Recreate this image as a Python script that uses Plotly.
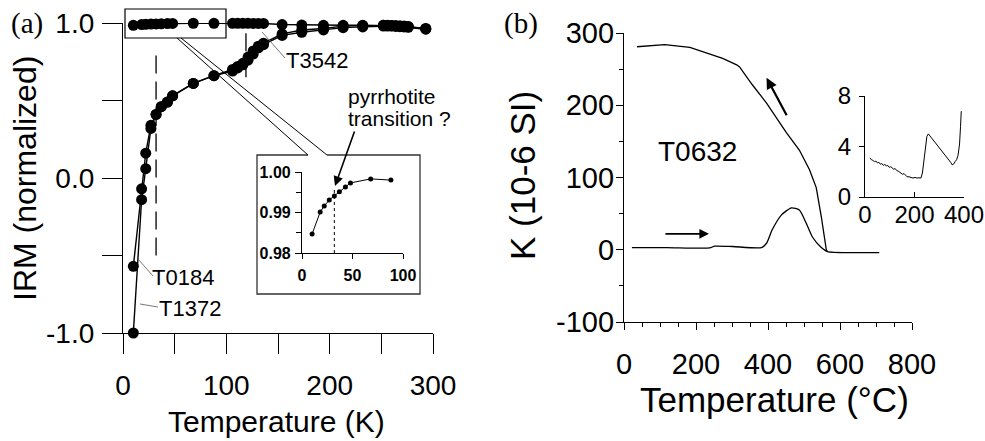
import plotly.graph_objects as go

# ---------------- data ----------------
# (a) IRM vs temperature (K)
irm_T = [10, 18, 22, 27, 32, 37, 43, 48, 68, 88, 106, 111, 116, 121, 126, 131, 136,
         154, 173, 194, 213, 232, 252, 256, 260, 264, 268, 272, 276, 293]
irm_T3542 = [0.9847, 0.9901, 0.9916, 0.9931, 0.9941, 0.9951, 0.9963, 0.9973, 0.9983, 0.9980,
             0.998, 0.998, 0.998, 0.998, 0.997, 0.997, 0.997,
             0.990, 0.987, 0.985, 0.985, 0.985, 0.985, 0.984, 0.983, 0.982, 0.981, 0.980, 0.978, 0.965]
irm_T1372 = [-1.0, -0.14, 0.06, 0.32, 0.41, 0.46, 0.49, 0.53, 0.61, 0.66,
             0.69, 0.71, 0.73, 0.76, 0.80, 0.84, 0.86,
             0.92, 0.94, 0.955, 0.97, 0.975, 0.98, 0.98, 0.98, 0.978, 0.976, 0.975, 0.972, 0.96]
irm_T0184 = [-0.57, -0.07, 0.16, 0.34, 0.41, 0.46, 0.49, 0.53, 0.61, 0.66,
             0.70, 0.72, 0.74, 0.78, 0.82, 0.85, 0.87,
             0.93, 0.955, 0.965, 0.98, 0.983, 0.985, 0.985, 0.984, 0.982, 0.98, 0.978, 0.976, 0.963]
n_inset = 10  # first points of T3542 shown in the zoomed inset

# (b) susceptibility vs temperature (°C), sample T0632
heat_T = [22, 119, 238, 252, 302, 382, 396, 412, 437, 465, 487, 506, 523, 548, 565, 634, 709]
heat_K = [3, 3, 2.5, 5, 4.5, 3, 9, 28, 48, 58, 55, 37, 18, 3, -2.5, -4, -4]
cool_T = [36, 113, 183, 219, 274, 313, 321, 357, 396, 451, 487, 515, 534, 548, 562, 565]
cool_K = [281, 284, 280, 274, 265, 256, 253, 228, 203, 162, 138, 111, 86, 46, 0, -2.5]

# inset of (b): low-field heating detail
ins_T = [20, 26, 32, 38, 44, 50, 56, 62, 68, 74, 80, 86, 92, 98, 104, 110, 116, 122, 128, 134,
         140, 146, 152, 158, 164, 170, 178, 186, 194, 202, 210, 218, 226, 232, 238, 244, 250,
         256, 262, 268, 274, 280, 286, 292, 298, 304, 310, 316, 322, 328, 334, 340, 346, 352,
         358, 364, 370, 376, 382, 386, 389]
ins_K = [3.1, 2.95, 2.9, 2.8, 2.85, 2.7, 2.75, 2.6, 2.65, 2.5, 2.6, 2.45, 2.5, 2.35, 2.4, 2.3,
         2.2, 2.25, 2.1, 2.05, 1.95, 1.9, 1.8, 1.85, 1.7, 1.6, 1.6, 1.55, 1.5, 1.55, 1.5, 1.52,
         1.5, 1.9, 3.0, 4.2, 4.8, 5.0, 4.85, 4.75, 4.6, 4.4, 4.25, 4.1, 3.95, 3.8, 3.7, 3.5,
         3.4, 3.2, 3.05, 2.9, 2.75, 2.55, 2.6, 2.8, 2.95, 3.3, 4.2, 5.6, 6.8]

k_ticks = [-100, 0, 100, 200, 300]
k_ticktext = ["-100", "0", "100", "200", "300"]

# ---------------- helpers ----------------
W, H = 985, 441
FONT = "Liberation Sans, Arial, sans-serif"
SERIF = "Liberation Serif, Times New Roman, serif"


def px(x):
    return x / W


def py(y):
    return 1 - y / H


fig = go.Figure()

mk = dict(size=11, color="black")
ln = dict(color="black", width=1.4)
for yv in (irm_T1372, irm_T0184, irm_T3542):
    fig.add_trace(go.Scatter(x=irm_T, y=yv, mode="lines+markers", marker=mk, line=ln,
                             xaxis="x", yaxis="y", cliponaxis=False, showlegend=False))

fig.add_trace(go.Scatter(x=irm_T[:n_inset], y=irm_T3542[:n_inset], mode="lines+markers",
                         marker=dict(size=5, color="black"), line=dict(color="black", width=1),
                         xaxis="x2", yaxis="y2", cliponaxis=False, showlegend=False))

fig.add_trace(go.Scatter(x=heat_T, y=heat_K, mode="lines",
                         line=dict(color="black", width=1.3, shape="spline", smoothing=0.6),
                         xaxis="x3", yaxis="y3", showlegend=False))
fig.add_trace(go.Scatter(x=cool_T, y=cool_K, mode="lines", line=dict(color="black", width=1.3),
                         xaxis="x3", yaxis="y3", showlegend=False))

fig.add_trace(go.Scatter(x=ins_T, y=ins_K, mode="lines", line=dict(color="black", width=1),
                         xaxis="x4", yaxis="y4", showlegend=False))

axis_common = dict(showline=True, linecolor="black", linewidth=1.2, showgrid=False,
                   zeroline=False, ticks="outside", tickcolor="black", tickwidth=1.2,
                   automargin=False)

fig.update_layout(
    template="none",
    width=W, height=H, margin=dict(l=0, r=0, t=0, b=0, pad=0), autosize=False,
    paper_bgcolor="white", plot_bgcolor="rgba(0,0,0,0)",
    font=dict(family=FONT, color="black"),
    xaxis=dict(**axis_common, domain=[px(123), px(433)], range=[0, 300], anchor="y",
               tickvals=[0, 100, 200, 300], ticklen=20, ticklabelstandoff=7,
               tickfont=dict(size=28),
               minor=dict(tickvals=[50, 150, 250], ticklen=20, ticks="outside", tickcolor="black", tickwidth=1.2)),
    yaxis=dict(**axis_common, domain=[py(333), py(23)], range=[-1, 1], anchor="x",
               tickvals=[-1, 0, 1], ticktext=["-1.0", "0.0", "1.0"], ticklen=20,
               ticklabelstandoff=2, tickfont=dict(size=28),
               minor=dict(tickvals=[-0.5, 0.5], ticklen=20, ticks="outside", tickcolor="black", tickwidth=1.2)),
    xaxis2=dict(**axis_common, domain=[px(302), px(403)], range=[0, 100], anchor="y2",
                tickvals=[0, 50, 100], ticklen=5, ticklabelstandoff=3,
                tickfont=dict(size=16, weight="bold")),
    yaxis2=dict(**axis_common, domain=[py(253), py(172)], range=[0.98, 1.0], anchor="x2",
                tickvals=[0.98, 0.99, 1.0], ticktext=["0.98", "0.99", "1.00"], ticklen=6,
                ticklabelstandoff=1, tickfont=dict(size=16, weight="bold"),
                minor=dict(tickvals=[0.985, 0.995], ticklen=5, ticks="outside", tickcolor="black")),
    xaxis3=dict(**axis_common, domain=[px(624), px(912)], range=[0, 800], anchor="y3",
                tickvals=[0, 200, 400, 600, 800], ticklen=7, ticklabelstandoff=9,
                tickfont=dict(size=29),
                minor=dict(dtick=50, tick0=0, ticklen=4, ticks="outside", tickcolor="black")),
    yaxis3=dict(**axis_common, domain=[py(322), py(33)], range=[-100, 300], anchor="x3",
                tickvals=k_ticks, ticktext=k_ticktext, ticklen=7, ticklabelstandoff=-4,
                tickfont=dict(size=29),
                minor=dict(dtick=50, tick0=0, ticklen=4, ticks="outside", tickcolor="black")),
    xaxis4=dict(**axis_common, domain=[px(865), px(964)], range=[0, 400], anchor="y4",
                tickvals=[0, 200, 400], ticklen=5, ticklabelstandoff=-4,
                tickfont=dict(size=24)),
    yaxis4=dict(**axis_common, domain=[py(197), py(96)], range=[0, 8], anchor="x4",
                tickvals=[0, 4, 8], ticklen=5, ticklabelstandoff=3,
                tickfont=dict(size=24)),
)
fig.update_xaxes(selector=dict(anchor="y4"), ticks="inside")

shapes = []
# small selection box around the T3542 points
shapes.append(dict(type="rect", xref="paper", yref="paper", x0=px(125), x1=px(226), y0=py(38), y1=py(9),
                   line=dict(color="black", width=1.2)))
# inset frame with notch for connectors
path = "M {a},{b} L {c},{b} L {c},{d} L {e},{d} L {e},{b} L {f},{b}".format(
    a=px(308), b=py(155), c=px(257), d=py(294), e=px(420), f=px(327))
shapes.append(dict(type="path", xref="paper", yref="paper", path=path, line=dict(color="#333", width=1.3)))
for (x0, y0, x1, y1) in [(177, 38, 308, 155), (181, 38, 327, 155)]:
    shapes.append(dict(type="line", xref="paper", yref="paper", x0=px(x0), y0=py(y0), x1=px(x1), y1=py(y1),
                       line=dict(color="black", width=1)))
# dashed guides in (a)
shapes.append(dict(type="line", xref="x", yref="y", x0=32, x1=32, y0=-0.5, y1=0.81,
                   line=dict(color="black", width=1.3, dash="18px,8px")))
shapes.append(dict(type="line", xref="x", yref="y", x0=119, x1=119, y0=0.65, y1=0.97,
                   line=dict(color="black", width=1.3, dash="18px,8px")))
shapes.append(dict(type="line", xref="x2", yref="y2", x0=32, x1=32, y0=0.98, y1=0.9963,
                   line=dict(color="black", width=1, dash="3px,3px")))
# leader lines to sample labels
for (x0, y0, x1, y1) in [(262, 32, 285, 58), (138, 259, 153, 276), (140, 304, 158, 307)]:
    shapes.append(dict(type="line", xref="paper", yref="paper", x0=px(x0), y0=py(y0), x1=px(x1), y1=py(y1),
                       line=dict(color="#555", width=0.8)))
fig.update_layout(shapes=shapes)

ann = []


def text(x, y, s, size, family=FONT, angle=0, xanchor="center"):
    ann.append(dict(x=px(x), y=py(y), xref="paper", yref="paper", text=s, showarrow=False,
                    font=dict(size=size, family=family, color="black"), textangle=angle,
                    xanchor=xanchor, yanchor="middle"))


text(27, 23, "(a)", 29, SERIF)
text(521, 23, "(b)", 29, SERIF)
text(25, 179, "IRM (normalized)", 32, angle=-90)
text(276, 421, "Temperature (K)", 30)
text(522, 176, "K (10-6 SI)", 35, angle=-90)
text(774, 399, "Temperature (°C)", 35)
text(697, 151, "T0632", 28)
text(317, 60, "T3542", 22)
text(183, 277, "T0184", 22)
text(190, 308, "T1372", 22)
text(346, 97, "pyrrhotite", 21, xanchor="left")
text(346, 118, "transition ?", 21, xanchor="left")

# arrows
ann.append(dict(x=px(335), y=py(186), xref="paper", yref="paper", ax=20, ay=-56, axref="pixel", ayref="pixel",
                showarrow=True, arrowhead=2, arrowsize=1.2, arrowwidth=1.6, arrowcolor="black", text=""))
ann.append(dict(x=236, y=22, xref="x3", yref="y3", ax=111, ay=22, axref="x3", ayref="y3",
                showarrow=True, arrowhead=2, arrowsize=1.2, arrowwidth=1.6, arrowcolor="black", text=""))
ann.append(dict(x=396, y=238, xref="x3", yref="y3", ax=454, ay=184, axref="x3", ayref="y3",
                showarrow=True, arrowhead=2, arrowsize=1, arrowwidth=2.2, arrowcolor="black", text=""))
fig.update_layout(annotations=ann)

fig.write_html("out.html")
